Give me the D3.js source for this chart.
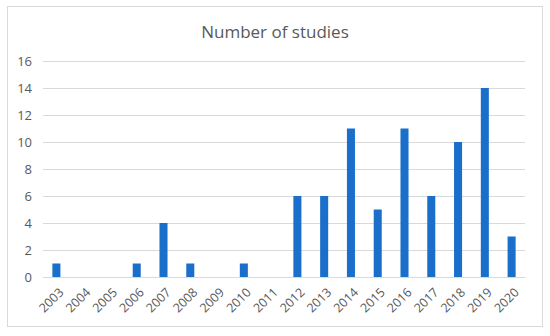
<!DOCTYPE html>
<html lang="en">
<head>
    <meta charset="UTF-8">
    <title>Number of studies</title>
    <style>
        body { margin: 0; background: #fff; }
        text { font-family: "Open Sans", sans-serif; }
    </style>
    <script src="https://d3js.org/d3.v7.min.js"></script>
</head>
<body>
    <div id="chart"></div>
    <script>
        const years = ["2003", "2004", "2005", "2006", "2007", "2008", "2009", "2010", "2011",
            "2012", "2013", "2014", "2015", "2016", "2017", "2018", "2019", "2020"];
        const studies = [1, 0, 0, 1, 4, 1, 0, 1, 0, 6, 6, 11, 5, 11, 6, 10, 14, 3];
        const yTicks = [0, 2, 4, 6, 8, 10, 12, 14, 16];

        const W = 550, H = 336;
        const margin = { top: 61, right: 25, bottom: 59, left: 43 };
        const width = W - margin.left - margin.right;
        const height = H - margin.top - margin.bottom;

        const svg = d3.select("#chart").append("svg")
            .attr("width", W)
            .attr("height", H);

        // outer frame
        svg.append("rect")
            .attr("x", 7.5).attr("y", 6.5)
            .attr("width", 535).attr("height", 320)
            .attr("fill", "#fff")
            .attr("stroke", "#d9d9d9");

        svg.append("text")
            .attr("x", W / 2)
            .attr("y", 38)
            .attr("text-anchor", "middle")
            .style("font-size", "17px")
            .style("fill", "#595959")
            .text("Number of studies");

        const g = svg.append("g")
            .attr("transform", `translate(${margin.left},${margin.top})`);

        const x = d3.scaleBand()
            .domain(years)
            .range([0, width])
            .paddingInner(0.7)
            .paddingOuter(0.35);

        const y = d3.scaleLinear()
            .domain([0, 16])
            .range([height, 0]);

        const yAxis = d3.axisLeft(y)
            .tickValues(yTicks)
            .tickSize(-width)
            .tickPadding(11);
        g.append("g")
            .attr("class", "y-axis")
            .call(yAxis)
            .call(s => s.select(".domain").remove())
            .call(s => s.selectAll(".tick line").attr("stroke", "#d9d9d9"))
            .call(s => s.selectAll(".tick text")
                .style("font-size", "13px")
                .style("fill", "#595959"));

        g.selectAll(".bar")
            .data(studies)
            .enter().append("rect")
            .attr("class", "bar")
            .attr("x", (d, i) => x(years[i]))
            .attr("y", d => y(d))
            .attr("width", x.bandwidth())
            .attr("height", d => height - y(d))
            .attr("fill", "#1a6fcb");

        const xAxis = d3.axisBottom(x).tickSize(0);
        g.append("g")
            .attr("class", "x-axis")
            .attr("transform", `translate(0,${height})`)
            .call(xAxis)
            .call(s => s.select(".domain").attr("stroke", "#d9d9d9"))
            .call(s => s.selectAll(".tick text")
                .style("font-size", "12.5px")
                .style("fill", "#595959")
                .attr("text-anchor", "end")
                .attr("x", 0)
                .attr("y", 0)
                .attr("dy", "0.35em")
                .attr("transform", "translate(5,13) rotate(-45)"));
    </script>
</body>
</html>
